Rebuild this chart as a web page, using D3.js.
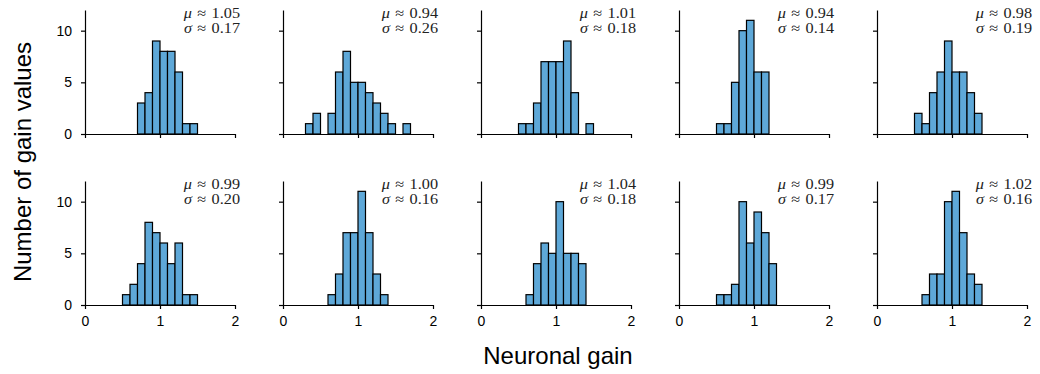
<!DOCTYPE html>
<html>
<head>
<meta charset="utf-8">
<script src="https://cdn.jsdelivr.net/npm/d3@7"></script>
<style>
	body { margin: 0; background: #fff; }
	svg { display: block; }
	.tick text { font-family: "Liberation Sans", Arial, sans-serif; font-size: 14px; fill: #000; }
	.note { font-family: "Liberation Serif", serif; font-size: 14.5px; fill: #222; }
	.label { font-family: "Liberation Sans", Arial, sans-serif; font-size: 24px; fill: #000; }
</style>
</head>
<body>
<div id="chart"></div>
<script>
// histogram counts per panel, bins of width 0.1 starting at binStarts[i]
const binWidth = 0.1;
const binStarts = [0.7, 0.3, 0.5, 0.5, 0.5, 0.5, 0.6, 0.6, 0.5, 0.6];
const counts = [
	[3, 4, 9, 8, 8, 6, 1, 1],
	[1, 2, 0, 2, 6, 8, 5, 5, 4, 3, 2, 1, 0, 1],
	[1, 1, 3, 7, 7, 7, 9, 4, 0, 1],
	[1, 1, 5, 10, 11, 6, 6],
	[2, 1, 4, 6, 9, 6, 6, 4, 2],
	[1, 2, 4, 8, 7, 6, 4, 6, 1, 1],
	[1, 3, 7, 7, 11, 7, 3, 1],
	[1, 4, 6, 5, 10, 5, 5, 4],
	[1, 1, 2, 10, 6, 9, 7, 4],
	[1, 3, 3, 10, 11, 7, 3, 2]
];
const means = ['1.05', '0.94', '1.01', '0.94', '0.98', '0.99', '1.00', '1.04', '0.99', '1.02'];
const sigmas = ['0.17', '0.26', '0.18', '0.14', '0.19', '0.20', '0.16', '0.18', '0.17', '0.16'];
const xTicks = [0, 1, 2];
const yTicks = [0, 5, 10];

const width = 1040;
const height = 374;
const cols = 5;
const panel = { left: 85, top: 10, w: 150, h: 124, dx: 198, dy: 171 };

const svg = d3.select('#chart')
	.append('svg')
	.attr('width', width)
	.attr('height', height);

const x = d3.scaleLinear()
	.domain([0, 2])
	.range([0, panel.w]);

const y = d3.scaleLinear()
	.domain([0, 12])
	.range([panel.h, 0]);

function note(g, symbol, value, baseline) {
	return g.append('text')
		.attr('class', 'note')
		.attr('text-anchor', 'end')
		.attr('transform', `translate(${panel.w + 5},${baseline}) scale(1.12,1)`)
		.call(t => t.append('tspan').style('font-style', 'italic').text(symbol))
		.call(t => t.append('tspan').text(`\u2004≈\u2004${value}`));
}

counts.forEach((values, i) => {
	const col = i % cols;
	const row = Math.floor(i / cols);

	const g = svg.append('g')
		.attr('transform', `translate(${panel.left + col * panel.dx},${panel.top + row * panel.dy})`);

	const bins = values
		.map((c, k) => ({
			x0: Math.round((binStarts[i] + k * binWidth) * 10) / 10,
			x1: Math.round((binStarts[i] + (k + 1) * binWidth) * 10) / 10,
			count: c
		}))
		.filter(d => d.count > 0);

	g.selectAll('rect.bar')
		.data(bins)
		.enter()
		.append('rect')
		.attr('class', 'bar')
		.attr('x', d => x(d.x0))
		.attr('y', d => y(d.count))
		.attr('width', d => x(d.x1) - x(d.x0))
		.attr('height', d => y(0) - y(d.count))
		.style('fill', '#5ea8d8')
		.style('stroke', '#000')
		.style('stroke-width', 1.2);

	g.append('g')
		.attr('transform', `translate(0,${panel.h})`)
		.call(d3.axisBottom(x).tickValues(xTicks).tickSize(4).tickSizeOuter(0).tickPadding(7)
			.tickFormat(row === 1 ? d3.format('d') : () => ''))
		.call(g => g.selectAll('path, line').attr('stroke', '#000').attr('stroke-width', 1.2));

	g.append('g')
		.call(d3.axisLeft(y).tickValues(yTicks).tickSize(4).tickSizeOuter(0).tickPadding(9)
			.tickFormat(col === 0 ? d3.format('d') : () => ''))
		.call(g => g.selectAll('path, line').attr('stroke', '#000').attr('stroke-width', 1.2));

	note(g, 'μ', means[i], 8);
	note(g, 'σ', sigmas[i], 22.5);
});

svg.append('text')
	.attr('class', 'label')
	.attr('text-anchor', 'middle')
	.attr('x', 558)
	.attr('y', 364)
	.text('Neuronal gain');

svg.append('text')
	.attr('class', 'label')
	.attr('text-anchor', 'middle')
	.attr('transform', 'translate(31,162) rotate(-90)')
	.text('Number of gain values');
</script>
</body>
</html>
